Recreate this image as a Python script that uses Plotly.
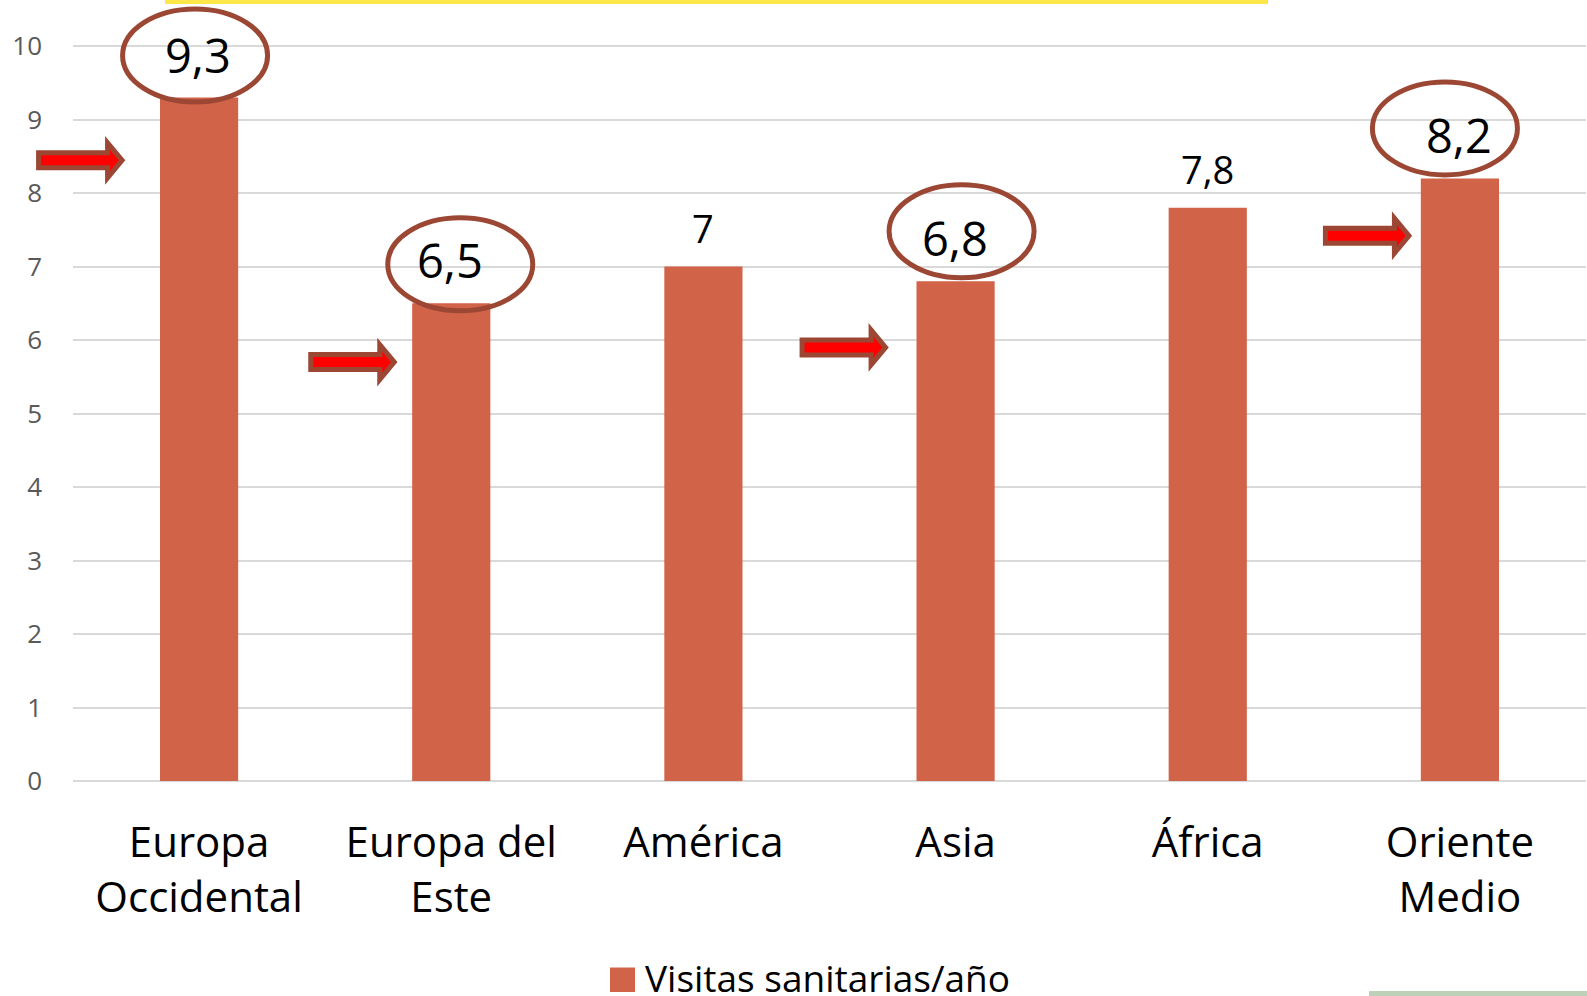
import plotly.graph_objects as go

# ---------------- data ----------------
categories = ["Europa<br>Occidental", "Europa del<br>Este", "América", "Asia", "África", "Oriente<br>Medio"]
values = [9.3, 6.5, 7.0, 6.8, 7.8, 8.2]
circled = [True, True, False, True, False, True]
series_name = "Visitas sanitarias/año"
y_tick_values = list(range(0, 11))

# ---------------- styles ----------------
FONT = "Open Sans"
BAR_COLOR = "#D16349"
RING_COLOR = "#9C4734"
ARROW_FILL = "#FF0000"
GRID = "#D9D9D9"

# ring geometry per bar index: (dx px, centre above bar top px)
ring_pos = {0: (-4, 42), 1: (9, 39), 3: (6, 50), 5: (-15, 50)}
RING_W, RING_H = 145, 93
# arrows: (bar index, tip dx px from bar centre, y centre in data units)
arrow_pos = [(0, -74, 8.445), (1, -54, 5.70), (3, -67, 5.90), (5, -48, 7.42)]

W, H = 1587, 996
ML, MR, MT, MB = 73, 1, 2, 215
PW, PH = W - ML - MR, H - MT - MB


def px_x(p):
    return (p - ML) / PW


def px_y(p):
    return (H - MB - p) / PH


def label(v):
    return f"{v:g}".replace(".", ",")


fig = go.Figure()
fig.add_trace(go.Bar(
    x=categories, y=values, name=series_name,
    marker=dict(color=BAR_COLOR, line=dict(width=0)),
    showlegend=False,
))

shapes = []
annotations = []

for i, (v, c) in enumerate(zip(values, circled)):
    if c:
        dx, dy = ring_pos[i]
        shapes.append(dict(
            type="circle", xref="x", yref="y",
            xsizemode="pixel", ysizemode="pixel",
            xanchor=i, yanchor=v,
            x0=dx - RING_W / 2, x1=dx + RING_W / 2,
            y0=dy - RING_H / 2, y1=dy + RING_H / 2,
            line=dict(color=RING_COLOR, width=5),
            fillcolor="rgba(0,0,0,0)", layer="above",
        ))
        annotations.append(dict(
            x=i, y=v, xref="x", yref="y", text=label(v), showarrow=False,
            yanchor="middle", xanchor="center", yshift=43, xshift=-1,
            font=dict(family=FONT, size=47, color="#000000"),
        ))
    else:
        annotations.append(dict(
            x=i, y=v, xref="x", yref="y", text=label(v), showarrow=False,
            yanchor="middle", xanchor="center", yshift=38.5,
            font=dict(family=FONT, size=38, color="#000000"),
        ))

n_cat = len(categories)
for i, tx, yc in arrow_pos:
    pts = [(-86.5, -7.5), (-17.5, -7.5), (-17.5, -17.5), (-3, 0),
           (-17.5, 17.5), (-17.5, 7.5), (-86.5, 7.5)]
    path = "M" + " L".join(f"{tx + a},{b}" for a, b in pts) + " Z"
    shapes.append(dict(
        type="path", xref="paper", yref="y",
        xsizemode="pixel", ysizemode="pixel",
        xanchor=(i + 0.5) / n_cat, yanchor=yc, path=path,
        line=dict(color=RING_COLOR, width=5),
        fillcolor=ARROW_FILL, layer="above",
    ))

# decorative slide lines
shapes.append(dict(type="rect", xref="paper", yref="paper",
                   x0=px_x(165), x1=px_x(1268), y0=px_y(4), y1=px_y(-2),
                   fillcolor="#FFE74A", line=dict(width=0)))
shapes.append(dict(type="rect", xref="paper", yref="paper",
                   x0=px_x(1369), x1=px_x(1590), y0=px_y(1000), y1=px_y(991),
                   fillcolor="#BCD1B7", line=dict(width=0)))

# legend (drawn manually for a large swatch)
shapes.append(dict(type="rect", xref="paper", yref="paper",
                   x0=px_x(610), x1=px_x(635), y0=px_y(992), y1=px_y(967.5),
                   fillcolor=BAR_COLOR, line=dict(width=0)))
annotations.append(dict(
    x=px_x(643), y=px_y(977), xref="paper", yref="paper", text=series_name,
    showarrow=False, xanchor="left", yanchor="middle",
    font=dict(family=FONT, size=37, color="#000000"),
))

fig.update_layout(
    width=W, height=H,
    margin=dict(l=ML, r=MR, t=MT, b=MB, autoexpand=False),
    paper_bgcolor="white", plot_bgcolor="white",
    bargap=0.69,
    shapes=shapes, annotations=annotations,
    showlegend=False,
    font=dict(family=FONT),
)
fig.update_yaxes(
    range=[0, 10.6], autorange=False, tickvals=y_tick_values,
    ticktext=[str(t) for t in y_tick_values],
    showgrid=True, gridcolor=GRID, gridwidth=2,
    zeroline=True, zerolinecolor=GRID, zerolinewidth=2,
    showline=False, ticks="", ticklabelstandoff=30,
    tickfont=dict(family=FONT, size=26, color="#595959"),
)
fig.update_xaxes(
    range=[-0.5, n_cat - 0.5], autorange=False,
    showgrid=False, showline=False, ticks="", ticklabelstandoff=33,
    tickfont=dict(family=FONT, size=42, color="#000000"),
)

fig.write_html(
    "out.html",
    config={"displayModeBar": False},
    post_script="document.body.style.margin='0px';document.body.style.overflow='hidden';",
)
